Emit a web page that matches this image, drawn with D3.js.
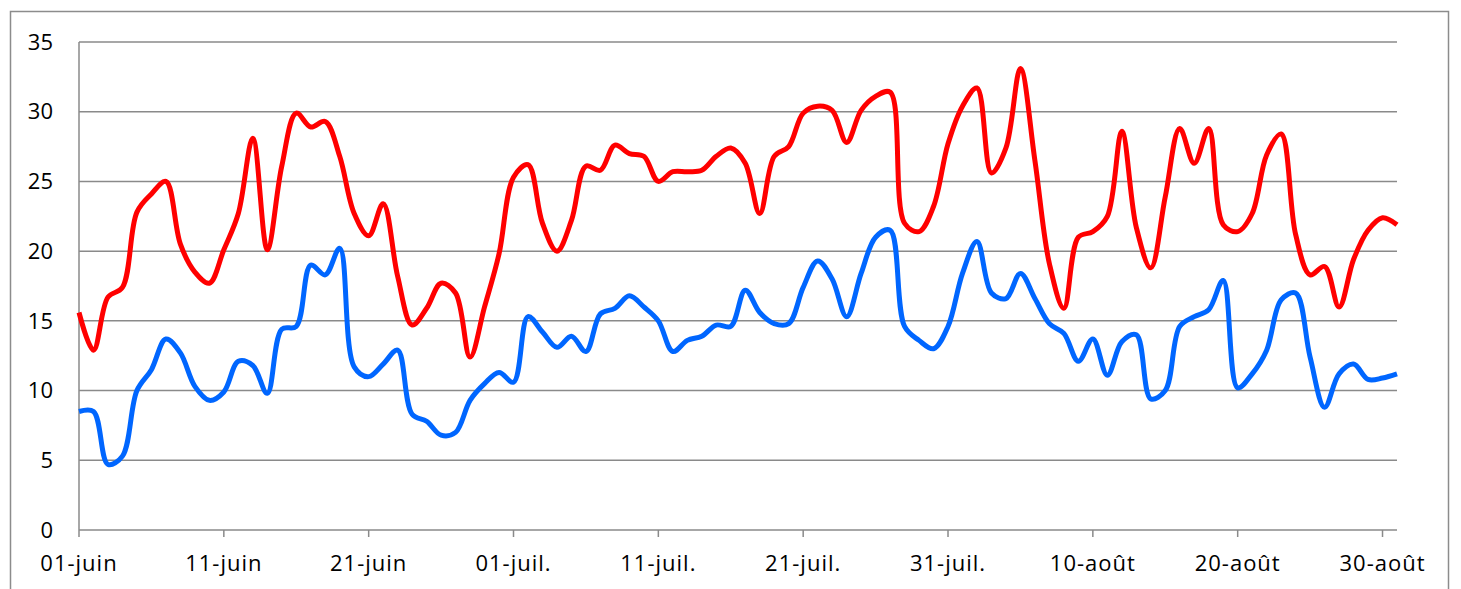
<!DOCTYPE html>
<html>
<head>
<meta charset="utf-8">
<script src="https://cdn.jsdelivr.net/npm/d3@7"></script>
<style>
  body { margin: 0; background: #fff; }
  svg text { font-family: "Open Sans", sans-serif; font-size: 22px; fill: #000; }
  svg .xlabel { letter-spacing: 1px; }
</style>
</head>
<body>
<svg id="chart" width="1461" height="589"></svg>
<script>
// daily values, 01 June -> 31 August
const startDate = new Date(2013, 5, 1);
const maxTemps = [
	15.6, 12.9, 16.7, 17.4, 22.8, 24.1, 25.0, 20.5, 18.5, 17.7,
	20.1, 22.7, 28.1, 20.1, 26.1, 29.9, 28.9, 29.3, 26.8, 22.7,
	21.1, 23.4, 18.2, 14.7, 15.9, 17.7, 17.0, 12.4, 16.0, 19.8,
	25.3, 26.2, 22.0, 20.0, 22.2, 26.1, 25.8, 27.6, 27.0, 26.8,
	25.0, 25.7, 25.7, 25.8, 26.8, 27.4, 26.3, 22.7, 26.8, 27.5,
	29.9, 30.4, 30.1, 27.8, 30.1, 31.1, 31.4, 22.0, 21.4, 23.2,
	27.7, 30.4, 31.7, 25.6, 27.4, 33.1, 26.5, 19.1, 15.9, 21.0,
	21.4, 22.5, 28.6, 21.7, 18.8, 23.9, 28.8, 26.3, 28.8, 21.9,
	21.4, 22.7, 26.9, 28.4, 21.2, 18.3, 18.9, 16.0, 19.4, 21.5,
	22.4, 21.9
];
const minTemps = [
	8.5, 8.5, 4.7, 5.3, 10.0, 11.5, 13.7, 12.7, 10.3, 9.3,
	9.9, 12.1, 11.8, 9.8, 14.4, 14.6, 19.0, 18.3, 20.2, 11.7,
	11.0, 11.9, 12.9, 8.3, 7.8, 6.8, 7.0, 9.3, 10.5, 11.3,
	10.6, 15.3, 14.2, 13.1, 13.9, 12.8, 15.5, 15.9, 16.8, 16.0,
	15.0, 12.8, 13.6, 13.9, 14.7, 14.6, 17.2, 15.6, 14.8, 14.8,
	17.4, 19.3, 18.0, 15.3, 18.4, 21.0, 21.5, 14.6, 13.6, 13.0,
	14.6, 18.4, 20.7, 17.0, 16.6, 18.4, 16.6, 14.8, 14.1, 12.1,
	13.7, 11.1, 13.5, 14.0, 9.4, 10.0, 14.6, 15.3, 15.8, 17.9,
	10.2, 11.2, 12.9, 16.5, 17.0, 12.4, 8.8, 11.2, 11.9, 10.8,
	10.9, 11.2
];
const yTicks = [0, 5, 10, 15, 20, 25, 30, 35];
const xTickLabels = ['01-juin', '11-juin', '21-juin', '01-juil.', '11-juil.', '21-juil.', '31-juil.', '10-août', '20-août', '30-août'];

const dates = maxTemps.map((v, i) => d3.timeDay.offset(startDate, i));

const svg = d3.select('#chart');
const margin = {left: 79, right: 1397, top: 42, bottom: 530};

// outer chart border
svg.append('rect')
	.attr('x', 10.5).attr('y', 11.5)
	.attr('width', 1438).attr('height', 620)
	.attr('fill', 'none')
	.attr('stroke', '#8c8c8c')
	.attr('stroke-width', 1.5);

const x = d3.scaleTime()
	.domain([dates[0], dates[dates.length - 1]])
	.range([margin.left, margin.right]);

const y = d3.scaleLinear()
	.domain([0, 35])
	.range([margin.bottom, margin.top]);

// gridlines
svg.append('g')
	.selectAll('line')
	.data(yTicks.filter(t => t > 0))
	.enter().append('line')
		.attr('x1', margin.left).attr('x2', margin.right)
		.attr('y1', d => y(d)).attr('y2', d => y(d))
		.attr('stroke', '#8a8a8a')
		.attr('stroke-width', 1.5);

// y labels
svg.append('g')
	.selectAll('text')
	.data(yTicks)
	.enter().append('text')
		.attr('x', 53)
		.attr('y', d => y(d))
		.attr('dy', '0.35em')
		.attr('text-anchor', 'end')
		.text(d => d);

// axes lines
svg.append('line')
	.attr('x1', margin.left).attr('x2', margin.left)
	.attr('y1', margin.top).attr('y2', margin.bottom)
	.attr('stroke', '#8a8a8a').attr('stroke-width', 1.5);
svg.append('line')
	.attr('x1', margin.left).attr('x2', margin.right)
	.attr('y1', margin.bottom).attr('y2', margin.bottom)
	.attr('stroke', '#8a8a8a').attr('stroke-width', 1.5);

// x ticks every 10 days
const tickDates = xTickLabels.map((l, i) => dates[i * 10]);
const xt = svg.append('g')
	.selectAll('g')
	.data(tickDates)
	.enter().append('g')
		.attr('transform', d => 'translate(' + x(d) + ',0)');
xt.append('line')
	.attr('y1', margin.bottom).attr('y2', margin.bottom + 7)
	.attr('stroke', '#8a8a8a').attr('stroke-width', 1.5);
xt.append('text')
	.attr('class', 'xlabel')
	.attr('y', 563)
	.attr('dy', '0.35em')
	.attr('text-anchor', 'middle')
	.text((d, i) => xTickLabels[i]);

// smoothed lines
const line = d3.line()
	.x((d, i) => x(dates[i]))
	.y(d => y(d))
	.curve(d3.curveCatmullRom.alpha(0.5));

svg.append('path')
	.datum(minTemps)
	.attr('d', line)
	.attr('fill', 'none')
	.attr('stroke', '#0066ff')
	.attr('stroke-width', 5)
	.attr('stroke-linejoin', 'round');

svg.append('path')
	.datum(maxTemps)
	.attr('d', line)
	.attr('fill', 'none')
	.attr('stroke', '#ff0000')
	.attr('stroke-width', 5)
	.attr('stroke-linejoin', 'round');
</script>
</body>
</html>
